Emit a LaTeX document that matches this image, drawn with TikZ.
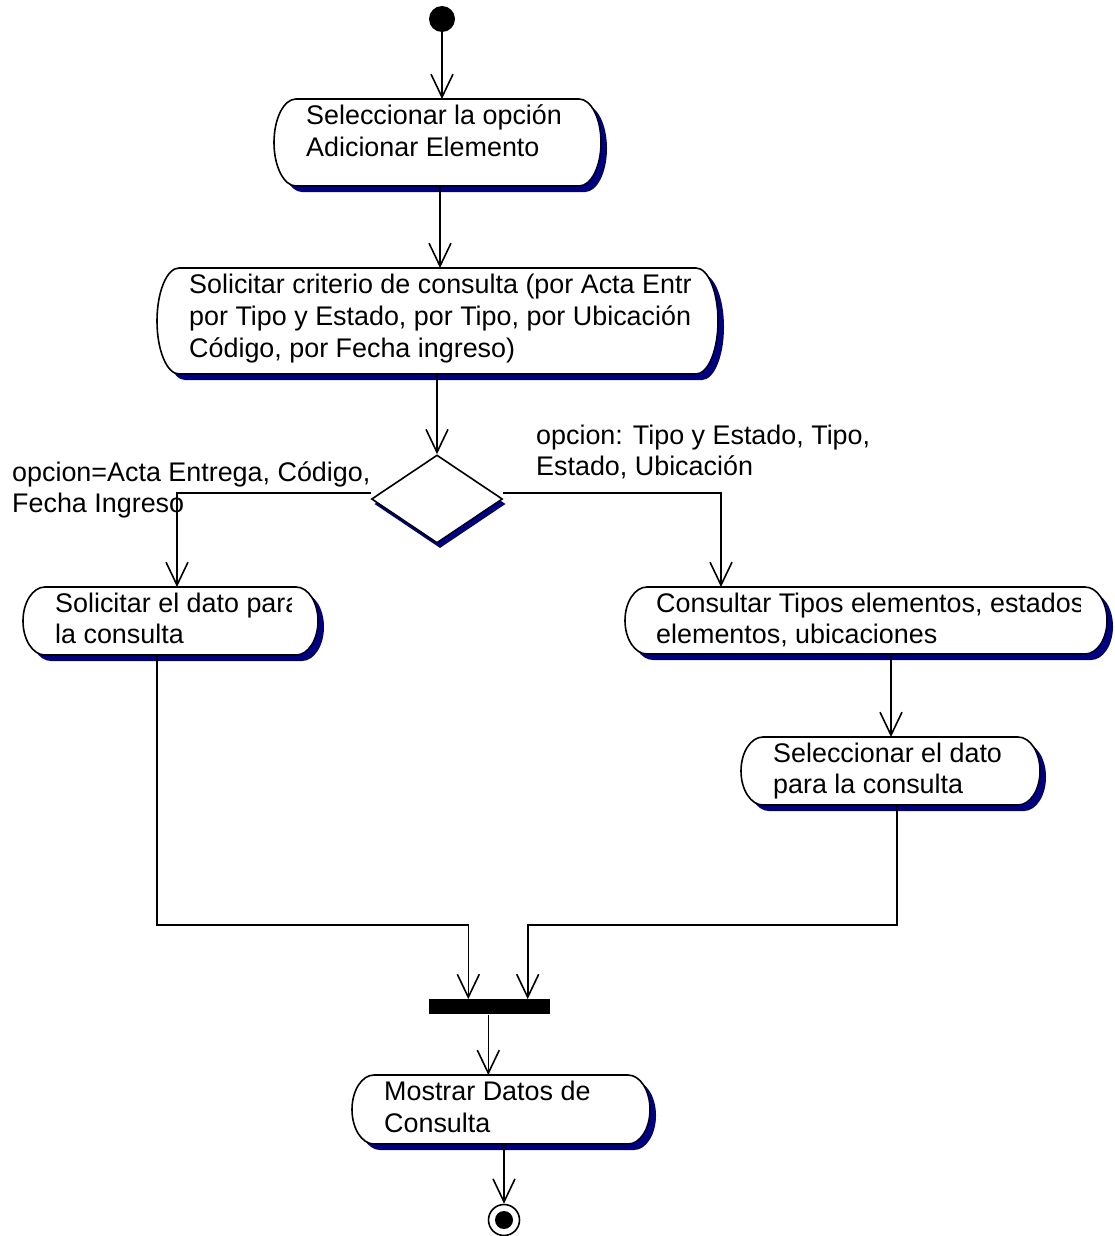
\documentclass[tikz,border=0pt]{standalone}
\usepackage{fontspec}
\setmainfont{Liberation Sans}
\usetikzlibrary{arrows.meta,shapes.geometric,calc}
\definecolor{shadowc}{RGB}{0,0,128}
\newcommand{\fs}{\fontsize{26.9}{31.8}\selectfont}
% activity box: name, left, top, right, bottom (pixel coords, y downwards)
\newcommand{\actbox}[5]{%
  \pgfmathsetmacro{\ryy}{(#5-#3)/2}%
  \fill[shadowc] (#2+22+6,-#3-6) -- (#4-22+6,-#3-6)
     arc[start angle=90,end angle=-90,x radius=22pt,y radius=\ryy pt]
     -- (#2+22+6,-#5-6)
     arc[start angle=270,end angle=90,x radius=22pt,y radius=\ryy pt] -- cycle;
  \draw[line width=1.6pt,fill=white] (#2+22,-#3) -- (#4-22,-#3)
     arc[start angle=90,end angle=-90,x radius=22pt,y radius=\ryy pt]
     -- (#2+22,-#5)
     arc[start angle=270,end angle=90,x radius=22pt,y radius=\ryy pt] -- cycle;
  \node[inner sep=0pt,outer sep=0pt,minimum width={#4-#2},minimum height={#5-#3}] (#1) at ({(#2+#4)/2},{-(#3+#5)/2}) {};%
}
% activity text: name, left x, last baseline y, clip right, text
\newcommand{\acttext}[5]{%
  \begin{scope}
    \clip (#2-6,0) rectangle (#4,-1236);
    \node[txt] (#1) at (#2,-#3) {#5};
  \end{scope}%
}
\begin{document}
\begin{tikzpicture}[x=1pt,y=1pt,
  arr/.style={-{Straight Barb[length=23pt,width=22pt]},line width=1.6pt},
  txt/.style={anchor=base west,inner sep=0pt,align=left,font=\fs}]
\useasboundingbox (0,0) rectangle (1114,-1236);
% start
\node[circle,fill=black,minimum size=26pt,inner sep=0pt] (init) at (442,-19) {};
% activities
\actbox{a1}{274}{99}{601}{186}
\acttext{t1}{306}{156.3}{600}{Seleccionar la opción\\Adicionar Elemento}
\actbox{a2}{157}{268}{718}{374}
\acttext{t2}{189}{357.1}{705}{Solicitar criterio de consulta (por Acta Entr\\por Tipo y Estado, por Tipo, por Ubicación\\Código, por Fecha ingreso)}
% decision
\node[diamond,fill=shadowc,minimum width=131pt,minimum height=88pt,inner sep=0pt] (dsh) at (440,-504) {};
\node[diamond,draw,fill=white,line width=1.6pt,minimum width=131pt,minimum height=88pt,inner sep=0pt] (dia) at (437,-499) {};
\actbox{a3}{23}{587}{318}{655}
\acttext{t3}{55}{643.8}{291.7}{Solicitar el dato para\\la consulta}
\actbox{a4}{625}{587}{1107}{654}
\acttext{t4}{656}{643.8}{1080.5}{Consultar Tipos elementos, estados\\elementos, ubicaciones}
\actbox{a5}{741}{737}{1040}{805}
\acttext{t5}{773}{793.8}{1030}{Seleccionar el dato\\para la consulta}
% join bar
\node[fill=black,minimum width=121pt,minimum height=15pt,inner sep=0pt] (bar) at (489.7,-1006.8) {};
\actbox{a6}{352}{1075}{650}{1144}
\acttext{t6}{384}{1132.3}{640}{Mostrar Datos de\\Consulta}
% final
\node[circle,draw,line width=1.6pt,minimum size=31pt,inner sep=0pt] (fin) at (504,-1220) {};
\node[circle,fill=black,minimum size=18pt,inner sep=0pt] (finin) at (fin) {};
% guard labels
\node[txt] (l1) at (12,-512.8) {opcion=Acta Entrega, Código,\\Fecha Ingreso};
\node[txt] (l2) at (536,-475.8) {opcion: Tipo y Estado, Tipo,\\Estado, Ubicación};
% connectors
\coordinate (m1) at (0,-925);
\draw[arr] (init) -- (init |- a1.north);
\draw[arr] ([xshift=2.5]a1.south) -- ([xshift=2.5]a1.south |- a2.north);
\draw[arr] (dia.north |- a2.south) -- (dia.north);
\draw[arr] ([yshift=6]dia.west) -| ([xshift=6.5]a3.north);
\draw[arr] ([yshift=6]dia.east) -| ([xshift=-145]a4.north);
\draw[arr] ([xshift=25]a4.south) -- ([xshift=25]a4.south |- a5.north);
\draw[arr] ([xshift=-13.5]a3.south) |- ([xshift=-21.4]bar.north |- m1) -- ([xshift=-21.4]bar.north);
\draw[arr] ([xshift=6.5]a5.south) |- ([xshift=38]bar.north |- m1) -- ([xshift=38]bar.north);
\draw[arr] ([xshift=-1.4]bar.south) -- ([xshift=-1.4]bar.south |- a6.north);
\draw[arr] (fin.north |- a6.south) -- (fin.north);
\end{tikzpicture}
\end{document}
